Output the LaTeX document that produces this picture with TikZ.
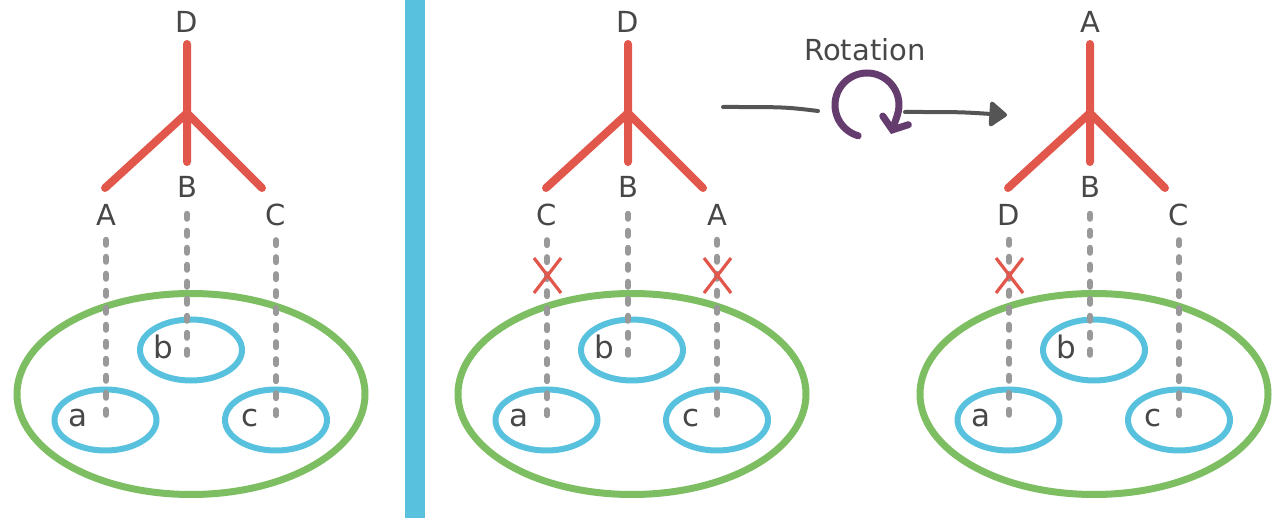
\documentclass[tikz,border=0pt]{standalone}
\usepackage{fontspec}
\setmainfont{DejaVu Sans}
\usetikzlibrary{arrows.meta}
\definecolor{treered}{HTML}{E2574C}
\definecolor{setgreen}{HTML}{7EBE62}
\definecolor{subblue}{HTML}{58C1DE}
\definecolor{linkgray}{HTML}{999999}
\definecolor{txtgray}{HTML}{474747}
\definecolor{rotpurple}{HTML}{643C6E}
\definecolor{arrgray}{HTML}{555555}
\tikzset{
  tree/.style={treered, line width=8pt, line cap=round, line join=round},
  grp/.style={setgreen, line width=7pt},
  sub/.style={subblue, line width=6pt},
  link/.style={linkgray, line width=6pt, line cap=round, dash pattern=on 5pt off 12pt},
  lbl/.style={text=txtgray, inner sep=0pt, font=\fontsize{29}{29}\selectfont},
  small/.style={text=txtgray, inner sep=0pt, font=\fontsize{31}{31}\selectfont},
  cross/.style={treered, line width=3.2pt},
  flow/.style={arrgray, line width=4pt, line cap=round},
  spin/.style={rotpurple, line width=7pt, line cap=round, line join=round},
}
\newcommand\drawpanel[8]{%
\begin{scope}[xshift=#1pt]
  \coordinate (#2top) at (187,44);
  \coordinate (#2j) at (187,113);
  \coordinate (#2l) at (105,188);
  \coordinate (#2m) at (187,162);
  \coordinate (#2r) at (262,188);
  \draw[tree] (#2l) -- (#2j) -- (#2r) (#2top) -- (#2j) -- (#2m);
  \draw[grp] (191,394) ellipse [x radius=174, y radius=100.5];
  \draw[sub] (191,350) ellipse [x radius=51, y radius=30.5];
  \draw[sub] (105.5,420) ellipse [x radius=51, y radius=30.5];
  \draw[sub] (276,420) ellipse [x radius=51, y radius=30.5];
  \node[lbl] (#2D) at (187,22) {#3};
  \node[lbl] (#2A) at (106,215) {#4};
  \node[lbl] (#2B) at (187,187) {#5};
  \node[lbl] (#2C) at (276,215) {#6};
  \node[small] (#2a) at (78,418) {a};
  \node[small] (#2b) at (163,347) {b};
  \node[small] (#2c) at (250,418) {c};
  \coordinate (#2pa) at (106,417);
  \coordinate (#2pb) at (187,357);
  \coordinate (#2pc) at (276,417);
  \draw[link, shorten <=14pt] (#2A) -- (#2pa);
  \draw[link, shorten <=16pt] (#2B) -- (#2pb);
  \draw[link, shorten <=14pt] (#2C) -- (#2pc);
  \ifnum#7=1
    \draw[cross] (93,258) -- (120,293) (93,293) -- (120,258);
  \fi
  \ifnum#8=1
    \draw[cross] (263,258) -- (290,293) (263,293) -- (290,258);
  \fi
\end{scope}}
\begin{document}
\begin{tikzpicture}[x=1pt,y=-1pt]
  \useasboundingbox (0,0) rectangle (1274,518);
  \fill[subblue] (405,0) rectangle (425,518);
  \drawpanel{0}{p}{D}{A}{B}{C}{0}{0}
  \drawpanel{441}{q}{D}{C}{B}{A}{1}{1}
  \drawpanel{903}{r}{A}{D}{B}{C}{1}{0}
  % rotation
  \node[lbl] (rot) at (865,50) {Rotation};
  \coordinate (rs) at (723,107);
  \coordinate (re) at (818,111);
  \draw[flow] (rs) .. controls (785,107) .. (re);
  \coordinate (rc) at (867,105);
  \coordinate (rtip) at (891,134);
  \draw[spin, -{Straight Barb[length=10pt,width=27pt,line cap=round]}]
    (rc) ++(106:32 and 32) arc[start angle=106, end angle=378, x radius=32, y radius=32] -- (rtip);
  \coordinate (fs) at (905,112);
  \coordinate (fe) at (1007,115);
  \draw[flow, -{Triangle[length=19pt,width=28pt,round]}] (fs) .. controls (960,112) .. (fe);
\end{tikzpicture}
\end{document}
